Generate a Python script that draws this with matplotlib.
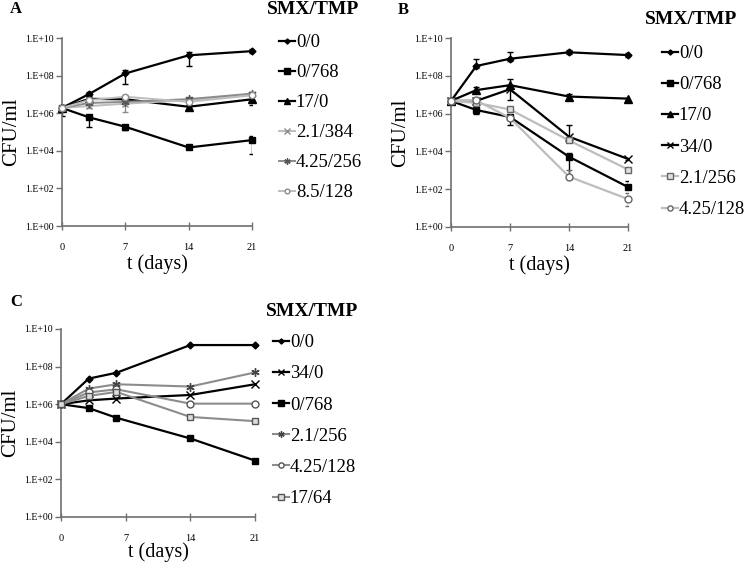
import numpy as np
import matplotlib
matplotlib.use('Agg')
import matplotlib.pyplot as plt
from matplotlib.ticker import FixedLocator, FuncFormatter

plt.rcParams['font.family'] = ['Liberation Serif', 'DejaVu Serif']

# days sampled in each panel
days_A = [0, 3, 7, 14, 21]
days_B = [0, 3, 7, 14, 21]
days_C = [0, 3, 6, 14, 21]

# panel A, CFU/ml
labels_A = ['0/0', '0/768', '17/0', '2.1/384', '4.25/256', '8.5/128']
cfu_A = [
    [1.9e6, 1.05e7, 1.3e8, 1.2e9, 2.0e9],
    [1.9e6, 6.0e5, 1.9e5, 1.5e4, 3.7e4],
    [1.9e6, 5.8e6, 5.5e6, 2.2e6, 5.5e6],
    [1.9e6, 2.4e6, 3.2e6, 5.0e6, 1.0e7],
    [1.9e6, 3.5e6, 4.0e6, 5.6e6, 1.1e7],
    [1.9e6, 5.0e6, 7.5e6, 4.0e6, 9.0e6],
]
# error bars (decades below / above)
errlo_A = [
    [0.45, 0.1, 0.55, 0.55, 0.1],
    [0.0, 0.5, 0.15, 0.08, 0.75],
    [0.0, 0.15, 0.1, 0.1, 0.3],
    [0.0, 0.1, 0.45, 0.1, 0.1],
    [0.0, 0.05, 0.1, 0.1, 0.1],
    [0.0, 0.05, 0.1, 0.05, 0.1],
]
errhi_A = [
    [0.15, 0.1, 0.2, 0.2, 0.1],
    [0.0, 0.15, 0.1, 0.08, 0.2],
    [0.0, 0.1, 0.1, 0.1, 0.1],
    [0.0, 0.1, 0.1, 0.1, 0.1],
    [0.0, 0.05, 0.1, 0.1, 0.1],
    [0.0, 0.05, 0.1, 0.05, 0.1],
]

# panel B
labels_B = ['0/0', '0/768', '17/0', '34/0', '2.1/256', '4.25/128']
cfu_B = [
    [4.7e6, 3.3e8, 8.0e8, 1.75e9, 1.25e9],
    [4.7e6, 1.55e6, 6.6e5, 5.2e3, 1.3e2],
    [4.7e6, 1.75e7, 3.2e7, 8.0e6, 6.2e6],
    [4.7e6, 4.7e6, 1.95e7, 6.0e4, 4.0e3],
    [4.7e6, 3.7e6, 1.65e6, 3.8e4, 1.1e3],
    [4.7e6, 5.0e6, 5.9e5, 4.6e2, 3.0e1],
]
errlo_B = [
    [0.15, 0.1, 0.1, 0.1, 0.1],
    [0.15, 0.2, 0.4, 1.2, 0.0],
    [0.0, 0.1, 0.1, 0.15, 0.05],
    [0.0, 0.1, 0.55, 0.1, 0.05],
    [0.0, 0.1, 0.1, 0.1, 0.1],
    [0.0, 0.1, 0.1, 0.1, 0.35],
]
errhi_B = [
    [0.1, 0.35, 0.37, 0.1, 0.1],
    [0.0, 0.1, 0.1, 0.2, 0.3],
    [0.0, 0.15, 0.3, 0.15, 0.05],
    [0.0, 0.1, 0.1, 0.6, 0.05],
    [0.0, 0.1, 0.1, 0.1, 0.1],
    [0.0, 0.1, 0.1, 0.35, 0.3],
]

# panel C (no error bars)
labels_C = ['0/0', '34/0', '0/768', '2.1/256', '4.25/128', '17/64']
cfu_C = [
    [1.0e6, 2.3e7, 4.7e7, 1.4e9, 1.4e9],
    [1.0e6, 1.6e6, 2.0e6, 3.1e6, 1.15e7],
    [1.0e6, 6.2e5, 1.9e5, 1.5e4, 1.0e3],
    [1.0e6, 6.8e6, 1.15e7, 8.7e6, 4.9e7],
    [1.0e6, 4.2e6, 6.2e6, 1.07e6, 1.07e6],
    [1.0e6, 2.75e6, 4.5e6, 2.1e5, 1.25e5],
]

BLK = 'black'
GRY = '#8c8c8c'
LGT = '#bdbdbd'
ast = (6, 2, 0)

style = {
    'A': {
        '0/0': dict(color=BLK, marker='D', ms=3.5, mfc=BLK, lw=1.6),
        '0/768': dict(color=BLK, marker='s', ms=5, mfc=BLK, lw=1.6),
        '17/0': dict(color=BLK, marker='^', ms=5.5, mfc=BLK, lw=1.6),
        '2.1/384': dict(color=LGT, marker='x', ms=5, mfc='none', lw=1.4, mec=GRY),
        '4.25/256': dict(color=GRY, marker=ast, ms=6, mfc='none', lw=1.4, mec='#555555'),
        '8.5/128': dict(color=LGT, marker='o', ms=4.5, mfc='white', lw=1.4, mec=GRY),
    },
    'B': {
        '0/0': dict(color=BLK, marker='D', ms=3.5, mfc=BLK, lw=1.6),
        '0/768': dict(color=BLK, marker='s', ms=5, mfc=BLK, lw=1.6),
        '17/0': dict(color=BLK, marker='^', ms=5.5, mfc=BLK, lw=1.6),
        '34/0': dict(color=BLK, marker='x', ms=6, mfc='none', lw=1.6),
        '2.1/256': dict(color=LGT, marker='s', ms=5, mfc='#e0e0e0', lw=1.6, mec='#666666'),
        '4.25/128': dict(color=LGT, marker='o', ms=5, mfc='white', lw=1.6, mec='#666666'),
    },
    'C': {
        '0/0': dict(color=BLK, marker='D', ms=3.5, mfc=BLK, lw=1.6),
        '34/0': dict(color=BLK, marker='x', ms=6, mfc='none', lw=1.6),
        '0/768': dict(color=BLK, marker='s', ms=5, mfc=BLK, lw=1.6),
        '2.1/256': dict(color=GRY, marker=ast, ms=6, mfc='none', lw=1.5, mec='#444444'),
        '4.25/128': dict(color=GRY, marker='o', ms=5, mfc='white', lw=1.5, mec='#555555'),
        '17/64': dict(color=GRY, marker='s', ms=5, mfc='#dddddd', lw=1.5, mec='#555555'),
    },
}

W, H = 750, 565
fig = plt.figure(figsize=(W / 100, H / 100), dpi=100)


def px_axes(left, top, right, bottom):
    return fig.add_axes([left / W, 1 - bottom / H, (right - left) / W, (bottom - top) / H])


def sci(v, pos):
    e = int(round(np.log10(v)))
    return '1.E+%02d' % e


def setup(ax, xlabelpad=2):
    ax.set_yscale('log')
    ax.set_ylim(1, 1e10)
    ax.set_xlim(0, 21)
    ax.yaxis.set_major_locator(FixedLocator([1e0, 1e2, 1e4, 1e6, 1e8, 1e10]))
    ax.yaxis.set_minor_locator(FixedLocator([]))
    ax.yaxis.set_major_formatter(FuncFormatter(sci))
    ax.set_xticks([0, 7, 14, 21])
    for s in ['top', 'right']:
        ax.spines[s].set_visible(False)
    for s in ['left', 'bottom']:
        ax.spines[s].set_color('#707070')
        ax.spines[s].set_linewidth(1.2)
    ax.tick_params(axis='y', direction='out', length=4, width=1, color='#707070',
                   labelsize=7, pad=2)
    ax.tick_params(axis='x', direction='inout', length=6, width=1, color='#707070',
                   labelsize=7.5, pad=9)
    ax.set_ylabel('CFU/ml', fontsize=15, labelpad=3)
    ax.set_xlabel('t (days)', fontsize=14.5, labelpad=xlabelpad)


def draw(ax, days, labels, cfu, st, errlo=None, errhi=None):
    handles = []
    for i, lab in enumerate(labels):
        v = np.array(cfu[i])
        kw = dict(st[lab])
        kw.setdefault('mec', kw['color'])
        if errlo is not None:
            lo = v * (1 - 10 ** -np.array(errlo[i]))
            hi = v * (10 ** np.array(errhi[i]) - 1)
            ax.errorbar(days, v, yerr=[lo, hi], fmt='none', ecolor=kw['mec'],
                        elinewidth=1, capsize=2, capthick=1, zorder=2)
        h, = ax.plot(days, v, mew=1, zorder=3, label=lab, clip_on=False, **kw)
        handles.append(h)
    return handles


def legend(ax, handles, x, y, spacing, tx, ty):
    ax.legend(handles=handles, loc='upper left', bbox_to_anchor=(x / W, 1 - y / H),
              bbox_transform=fig.transFigure, frameon=False, fontsize=13.5,
              handlelength=0.85, handletextpad=0.05,
              labelspacing=spacing, borderaxespad=0, borderpad=0,
              markerscale=0.75)
    fig.text(tx / W, 1 - ty / H, 'SMX/TMP', fontsize=14, fontweight='bold',
             ha='center', va='center')


axA = px_axes(62, 38, 252, 226)
setup(axA)
hA = draw(axA, days_A, labels_A, cfu_A, style['A'], errlo_A, errhi_A)
legend(axA, hA, 279, 34, 0.69, 313, 9)

axB = px_axes(451, 38, 628, 227)
setup(axB)
hB = draw(axB, days_B, labels_B, cfu_B, style['B'], errlo_B, errhi_B)
legend(axB, hB, 662, 45, 0.75, 691, 19)

axC = px_axes(61, 329, 255, 517)
setup(axC, xlabelpad=0)
hC = draw(axC, days_C, labels_C, cfu_C, style['C'])
legend(axC, hC, 273, 334, 0.75, 312, 312)

fig.text(10 / W, 1 - 9 / H, 'A', fontsize=12, fontweight='bold', va='center')
fig.text(398 / W, 1 - 10 / H, 'B', fontsize=12, fontweight='bold', va='center')
fig.text(10 / W, 1 - 302 / H, 'C', fontsize=12, fontweight='bold', va='center')

fig.savefig('out.png', dpi=100)
